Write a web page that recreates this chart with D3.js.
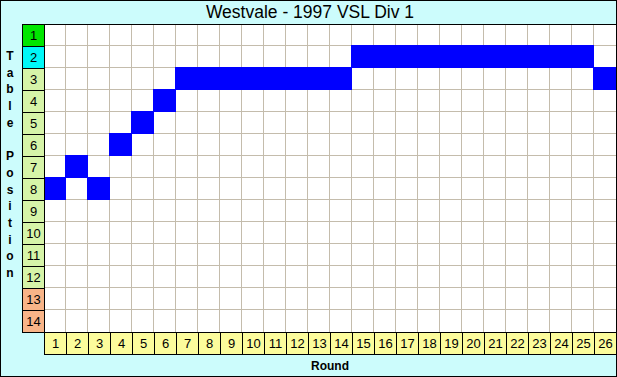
<!DOCTYPE html>
<html>
<head>
<meta charset="utf-8">
<script src="https://cdn.jsdelivr.net/npm/d3@7"></script>
<style>
  body { margin: 0; background: #fff; }
  text { font-family: Arial, "Liberation Sans", sans-serif; }
</style>
</head>
<body>
<div id="chart"></div>
<script>
// chart data
const title = "Westvale - 1997 VSL Div 1";
const rounds = d3.range(1, 27);           // 1..26
const positions = d3.range(1, 15);        // 1..14
const tablePosition = [8, 7, 8, 6, 5, 4, 3, 3, 3, 3, 3, 3, 3, 3,
                       2, 2, 2, 2, 2, 2, 2, 2, 2, 2, 2, 3];
const yLabel = "Table Position";
const xLabel = "Round";

const width = 617;
const height = 377;
const margin = { top: 24, left: 44, right: 1, bottom: 45 };

const svg = d3.select("#chart")
    .append("svg")
    .attr("width", width)
    .attr("height", height);

// background
svg.append("rect")
    .attr("x", 0.5).attr("y", 0.5)
    .attr("width", width - 1).attr("height", height - 1)
    .attr("fill", "#ccfcfc")
    .attr("stroke", "#000");

const x = d3.scaleBand()
    .domain(rounds)
    .range([margin.left, margin.left + 22 * rounds.length]);

const y = d3.scaleBand()
    .domain(positions)
    .range([margin.top, margin.top + 22 * positions.length]);

// white plot area
svg.append("rect")
    .attr("x", x.range()[0]).attr("y", y.range()[0])
    .attr("width", x.range()[1] - x.range()[0])
    .attr("height", y.range()[1] - y.range()[0])
    .attr("fill", "#fff");

// grid lines
const grid = svg.append("g").attr("stroke", "#c4bcac").attr("stroke-width", 1);
grid.selectAll("line.v")
    .data(rounds.slice(1))
    .enter().append("line")
    .attr("x1", d => x(d) - 0.5).attr("x2", d => x(d) - 0.5)
    .attr("y1", y.range()[0]).attr("y2", y.range()[1]);
grid.selectAll("line.h")
    .data(positions.slice(1))
    .enter().append("line")
    .attr("y1", d => y(d) - 0.5).attr("y2", d => y(d) - 0.5)
    .attr("x1", x.range()[0]).attr("x2", x.range()[1]);

// position cells
svg.append("g").selectAll("rect")
    .data(tablePosition)
    .enter().append("rect")
    .attr("x", (d, i) => x(rounds[i]) - 1)
    .attr("y", d => y(d) - 1)
    .attr("width", x.bandwidth() + 1)
    .attr("height", y.bandwidth() + 1)
    .attr("fill", "#0000ff");

// top border of grid
svg.append("line")
    .attr("x1", 22).attr("x2", width)
    .attr("y1", margin.top + 0.5).attr("y2", margin.top + 0.5)
    .attr("stroke", "#000");

// row labels
const rowColor = p => p === 1 ? "#00e600" : p === 2 ? "#00f8f8" : p >= 13 ? "#f8b488" : "#d6f4a8";
const rowG = svg.append("g").selectAll("g")
    .data(positions)
    .enter().append("g");
rowG.append("rect")
    .attr("x", 22.5).attr("y", d => y(d) + 0.5)
    .attr("width", 22).attr("height", y.bandwidth())
    .attr("fill", d => rowColor(d))
    .attr("stroke", "#000");
rowG.append("text")
    .attr("x", 33.5).attr("y", d => y(d) + y.bandwidth() / 2 + 5)
    .attr("text-anchor", "middle")
    .attr("font-size", 13)
    .text(d => d);

// column labels
const colG = svg.append("g").selectAll("g")
    .data(rounds)
    .enter().append("g");
colG.append("rect")
    .attr("x", d => x(d) + 0.5).attr("y", y.range()[1] + 0.5)
    .attr("width", x.bandwidth()).attr("height", 22)
    .attr("fill", "#fcfc9c")
    .attr("stroke", "#000");
colG.append("text")
    .attr("x", d => x(d) + x.bandwidth() / 2 + 0.5)
    .attr("y", y.range()[1] + 16)
    .attr("text-anchor", "middle")
    .attr("font-size", 13)
    .text(d => d);

// title
svg.append("text")
    .attr("x", 310).attr("y", 18)
    .attr("text-anchor", "middle")
    .attr("font-size", 17.5)
    .text(title);

// y label, stacked letters
svg.append("g").selectAll("text")
    .data(yLabel.split(""))
    .enter().append("text")
    .attr("x", 10)
    .attr("y", (d, i) => 60 + i * 16.7)
    .attr("text-anchor", "middle")
    .attr("font-size", 12)
    .attr("font-weight", "bold")
    .text(d => d);

// x label
svg.append("text")
    .attr("x", 330).attr("y", 370)
    .attr("text-anchor", "middle")
    .attr("font-size", 12)
    .attr("font-weight", "bold")
    .text(xLabel);
</script>
</body>
</html>
